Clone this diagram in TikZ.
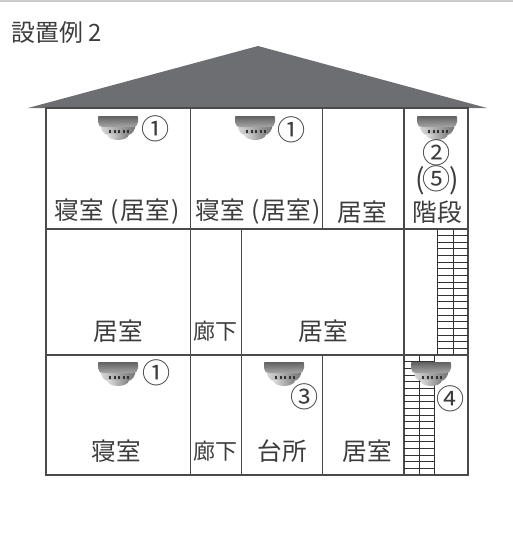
\documentclass[tikz,border=0pt]{standalone}
\usepackage{fontspec}
\setmainfont{Noto Sans CJK JP}
\definecolor{roofgray}{HTML}{6D6E71}
\definecolor{wallgray}{HTML}{4A4A4C}
\definecolor{textgray}{HTML}{3C3C3E}
\tikzset{
  wall/.style={draw=wallgray, line width=0.62pt},
  rung/.style={draw=black!80, line width=0.5pt},
  room/.style={text=textgray, font=\fontsize{14}{15}\selectfont, inner sep=0pt},
  hall/.style={room, font=\fontsize{12.5}{15}\selectfont},
  num/.style={text=textgray, font=\fontsize{16}{17}\selectfont, inner sep=0pt},
  alarm/.pic={
    % lower body, then ring, then cap
    \shade[left color=black!15, right color=black!55] (2,8) -- (38,8) .. controls (37,14) and (34,19) .. (30,19) -- (10,19) .. controls (6,19) and (3,14) .. (2,8) -- cycle;
    \shade[left color=black!12, right color=black!50] (9,18) -- (31,18) .. controls (31,22) and (25,24) .. (20,24) .. controls (15,24) and (9,22) .. (9,18) -- cycle;
    \shade[top color=black!62, bottom color=black!35] (1,0) -- (39,0) .. controls (40,0) and (40,1) .. (40,2) -- (40,6) .. controls (40,9) and (38,11) .. (35,11) -- (5,11) .. controls (2,11) and (0,9) .. (0,6) -- (0,2) .. controls (0,1) and (0,0) .. (1,0) -- cycle;
    \foreach \slit in {11,15.5,20,24.5,29} \fill[black!80] (\slit,14) rectangle +(2,3);
  }
}

\begin{document}
\begin{tikzpicture}[x=0.02cm, y=-0.02cm]
\useasboundingbox (0,0) rectangle (513,545);

\fill[black!20] (0,0) rectangle (513,1.5);

\draw (11,32) node[right, room, font=\fontsize{13.6}{15}\selectfont] (title) {設置例 2};

\fill[roofgray] (258,46) -- (487,108) -- (28,108) -- cycle;

% outer walls and floors
\draw[wall] (46,108) rectangle (468,475);
\draw[wall] (46,229) -- (468,229);
\draw[wall] (46,355) -- (468,355);

% top floor
\draw[wall] (190.5,108) -- (190.5,475);
\draw[wall] (322.5,108) -- (322.5,229);
\draw[wall] (404,108) -- (404,475);

% middle and ground floor
\draw[wall] (241.5,229) -- (241.5,475);
\draw[wall] (322.5,355) -- (322.5,475);

% stairs
\draw[rung] (437,229) -- (437,355);
\draw[rung] (453,229) -- (453,355);
\foreach \k in {1,...,18} \draw[rung] (437,229+\k*6.63) -- (468,229+\k*6.63);

\draw[rung] (419.5,355) -- (419.5,475);
\draw[rung] (434.5,355) -- (434.5,475);
\foreach \k in {1,...,17} \draw[rung] (404,355+\k*6.67) -- (434.5,355+\k*6.67);

% alarms
\pic at (98,116) {alarm};
\pic at (235,116) {alarm};
\pic at (417,116) {alarm};
\pic at (98,362) {alarm};
\pic at (264,362) {alarm};
\pic at (411,362) {alarm};

\draw (156,129) node[num] (one1) {①};
\draw (292,130) node[num] (one2) {①};
\draw (437,153) node[num] (two) {②};
\draw (437,180) node[num] (five) {(\kern-1pt⑤\kern-1pt)};
\draw (157,373) node[num] (one3) {①};
\draw (305,397) node[num] (three) {③};
\draw (451,399) node[num] (four) {④};

\draw (117,212) node[room] (bed1) {寝室\kern3.5pt(\kern1.5pt居室\kern0.5pt)};
\draw (258,212) node[room] (bed2) {寝室\kern3.5pt(\kern1.5pt居室\kern0.5pt)};
\draw (362,212) node[room] (living1) {居室};
\draw (437,212) node[room] (stairs) {階段};

\draw (118,331) node[room] (living2) {居室};
\draw (215,331) node[hall] (hall1) {廊下};
\draw (323,331) node[room] (living3) {居室};

\draw (116,451) node[room] (bed3) {寝室};
\draw (215,451) node[hall] (hall2) {廊下};
\draw (282,451) node[room] (kitchen) {台所};
\draw (367,451) node[room] (living4) {居室};

\end{tikzpicture}
\end{document}
